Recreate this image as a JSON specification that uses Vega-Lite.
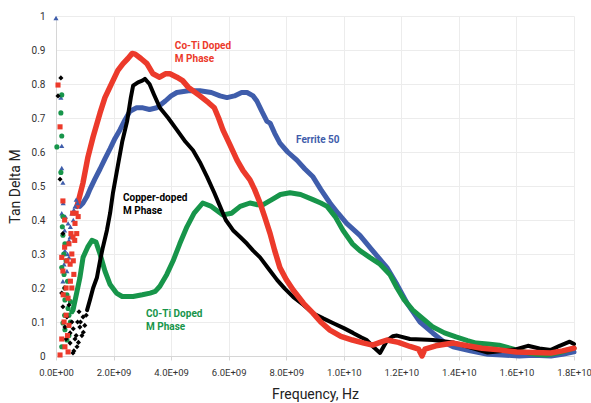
{
  "$schema": "https://vega.github.io/schema/vega-lite/v6.json",
  "width": 518,
  "height": 340,
  "autosize": {"type": "none"},
  "padding": {"left": 56, "top": 16, "right": 17, "bottom": 47},
  "background": "white",
  "config": {"view": {"stroke": null}, "font": "Roboto"},
  "datasets": {
    "curves": [
      {"s":"Ferrite 50","f":0.83e9,"v":0.44},{"s":"Ferrite 50","f":0.94e9,"v":0.45},{"s":"Ferrite 50","f":1.08e9,"v":0.47},{"s":"Ferrite 50","f":1.18e9,"v":0.49},{"s":"Ferrite 50","f":1.35e9,"v":0.52},{"s":"Ferrite 50","f":1.53e9,"v":0.55},{"s":"Ferrite 50","f":1.7e9,"v":0.58},{"s":"Ferrite 50","f":1.88e9,"v":0.61},{"s":"Ferrite 50","f":2.05e9,"v":0.64},{"s":"Ferrite 50","f":2.22e9,"v":0.665},{"s":"Ferrite 50","f":2.4e9,"v":0.695},{"s":"Ferrite 50","f":2.57e9,"v":0.72},{"s":"Ferrite 50","f":2.8e9,"v":0.73},{"s":"Ferrite 50","f":3.02e9,"v":0.73},{"s":"Ferrite 50","f":3.25e9,"v":0.725},{"s":"Ferrite 50","f":3.5e9,"v":0.73},{"s":"Ferrite 50","f":3.8e9,"v":0.75},{"s":"Ferrite 50","f":4.0e9,"v":0.765},{"s":"Ferrite 50","f":4.2e9,"v":0.775},{"s":"Ferrite 50","f":4.6e9,"v":0.78},{"s":"Ferrite 50","f":5.0e9,"v":0.78},{"s":"Ferrite 50","f":5.4e9,"v":0.775},{"s":"Ferrite 50","f":5.7e9,"v":0.765},{"s":"Ferrite 50","f":5.94e9,"v":0.76},{"s":"Ferrite 50","f":6.2e9,"v":0.765},{"s":"Ferrite 50","f":6.45e9,"v":0.775},{"s":"Ferrite 50","f":6.64e9,"v":0.775},{"s":"Ferrite 50","f":6.85e9,"v":0.765},{"s":"Ferrite 50","f":6.98e9,"v":0.75},{"s":"Ferrite 50","f":7.15e9,"v":0.72},{"s":"Ferrite 50","f":7.33e9,"v":0.69},{"s":"Ferrite 50","f":7.44e9,"v":0.685},{"s":"Ferrite 50","f":7.6e9,"v":0.655},{"s":"Ferrite 50","f":7.78e9,"v":0.626},{"s":"Ferrite 50","f":8.05e9,"v":0.6},{"s":"Ferrite 50","f":8.37e9,"v":0.576},{"s":"Ferrite 50","f":8.65e9,"v":0.55},{"s":"Ferrite 50","f":8.93e9,"v":0.527},{"s":"Ferrite 50","f":9.2e9,"v":0.49},{"s":"Ferrite 50","f":9.52e9,"v":0.45},{"s":"Ferrite 50","f":9.8e9,"v":0.42},{"s":"Ferrite 50","f":10.1e9,"v":0.39},{"s":"Ferrite 50","f":10.56e9,"v":0.355},{"s":"Ferrite 50","f":11.0e9,"v":0.31},{"s":"Ferrite 50","f":11.5e9,"v":0.26},{"s":"Ferrite 50","f":11.85e9,"v":0.21},{"s":"Ferrite 50","f":12.2e9,"v":0.155},{"s":"Ferrite 50","f":12.65e9,"v":0.1},{"s":"Ferrite 50","f":13.1e9,"v":0.067},{"s":"Ferrite 50","f":13.5e9,"v":0.04},{"s":"Ferrite 50","f":13.8e9,"v":0.027},{"s":"Ferrite 50","f":14.4e9,"v":0.015},{"s":"Ferrite 50","f":15.0e9,"v":0.005},{"s":"Ferrite 50","f":15.5e9,"v":0.003},{"s":"Ferrite 50","f":16.1e9,"v":0.0},{"s":"Ferrite 50","f":16.6e9,"v":0.002},{"s":"Ferrite 50","f":17.2e9,"v":0.0},{"s":"Ferrite 50","f":17.6e9,"v":0.005},{"s":"Ferrite 50","f":18.0e9,"v":0.012},

      {"s":"C0-Ti","f":0.59e9,"v":0.135},{"s":"C0-Ti","f":0.73e9,"v":0.19},{"s":"C0-Ti","f":0.83e9,"v":0.23},{"s":"C0-Ti","f":0.94e9,"v":0.29},{"s":"C0-Ti","f":1.1e9,"v":0.32},{"s":"C0-Ti","f":1.25e9,"v":0.34},{"s":"C0-Ti","f":1.39e9,"v":0.335},{"s":"C0-Ti","f":1.53e9,"v":0.3},{"s":"C0-Ti","f":1.7e9,"v":0.25},{"s":"C0-Ti","f":1.88e9,"v":0.21},{"s":"C0-Ti","f":2.1e9,"v":0.185},{"s":"C0-Ti","f":2.3e9,"v":0.175},{"s":"C0-Ti","f":2.68e9,"v":0.175},{"s":"C0-Ti","f":3.0e9,"v":0.18},{"s":"C0-Ti","f":3.27e9,"v":0.185},{"s":"C0-Ti","f":3.45e9,"v":0.19},{"s":"C0-Ti","f":3.61e9,"v":0.205},{"s":"C0-Ti","f":3.85e9,"v":0.24},{"s":"C0-Ti","f":4.07e9,"v":0.28},{"s":"C0-Ti","f":4.3e9,"v":0.33},{"s":"C0-Ti","f":4.55e9,"v":0.38},{"s":"C0-Ti","f":4.8e9,"v":0.42},{"s":"C0-Ti","f":5.1e9,"v":0.45},{"s":"C0-Ti","f":5.4e9,"v":0.44},{"s":"C0-Ti","f":5.8e9,"v":0.415},{"s":"C0-Ti","f":6.1e9,"v":0.42},{"s":"C0-Ti","f":6.4e9,"v":0.44},{"s":"C0-Ti","f":6.74e9,"v":0.45},{"s":"C0-Ti","f":7.0e9,"v":0.445},{"s":"C0-Ti","f":7.2e9,"v":0.445},{"s":"C0-Ti","f":7.5e9,"v":0.46},{"s":"C0-Ti","f":7.8e9,"v":0.475},{"s":"C0-Ti","f":8.13e9,"v":0.48},{"s":"C0-Ti","f":8.5e9,"v":0.475},{"s":"C0-Ti","f":8.93e9,"v":0.46},{"s":"C0-Ti","f":9.2e9,"v":0.45},{"s":"C0-Ti","f":9.42e9,"v":0.44},{"s":"C0-Ti","f":9.7e9,"v":0.41},{"s":"C0-Ti","f":9.97e9,"v":0.37},{"s":"C0-Ti","f":10.3e9,"v":0.33},{"s":"C0-Ti","f":10.56e9,"v":0.31},{"s":"C0-Ti","f":10.9e9,"v":0.29},{"s":"C0-Ti","f":11.26e9,"v":0.27},{"s":"C0-Ti","f":11.6e9,"v":0.24},{"s":"C0-Ti","f":11.85e9,"v":0.2},{"s":"C0-Ti","f":12.1e9,"v":0.165},{"s":"C0-Ti","f":12.4e9,"v":0.135},{"s":"C0-Ti","f":12.75e9,"v":0.11},{"s":"C0-Ti","f":13.1e9,"v":0.085},{"s":"C0-Ti","f":13.5e9,"v":0.068},{"s":"C0-Ti","f":13.9e9,"v":0.056},{"s":"C0-Ti","f":14.3e9,"v":0.045},{"s":"C0-Ti","f":14.6e9,"v":0.038},{"s":"C0-Ti","f":15.0e9,"v":0.035},{"s":"C0-Ti","f":15.4e9,"v":0.032},{"s":"C0-Ti","f":15.9e9,"v":0.02},{"s":"C0-Ti","f":16.4e9,"v":0.009},{"s":"C0-Ti","f":16.7e9,"v":0.005},{"s":"C0-Ti","f":17.05e9,"v":0.003},{"s":"C0-Ti","f":17.5e9,"v":0.01},{"s":"C0-Ti","f":18.0e9,"v":0.023},

      {"s":"Copper","f":1.08e9,"v":0.135},{"s":"Copper","f":1.18e9,"v":0.165},{"s":"Copper","f":1.29e9,"v":0.2},{"s":"Copper","f":1.42e9,"v":0.23},{"s":"Copper","f":1.53e9,"v":0.28},{"s":"Copper","f":1.63e9,"v":0.32},{"s":"Copper","f":1.77e9,"v":0.37},{"s":"Copper","f":1.88e9,"v":0.42},{"s":"Copper","f":1.98e9,"v":0.48},{"s":"Copper","f":2.15e9,"v":0.56},{"s":"Copper","f":2.3e9,"v":0.63},{"s":"Copper","f":2.47e9,"v":0.69},{"s":"Copper","f":2.6e9,"v":0.76},{"s":"Copper","f":2.68e9,"v":0.795},{"s":"Copper","f":2.85e9,"v":0.805},{"s":"Copper","f":3.0e9,"v":0.81},{"s":"Copper","f":3.09e9,"v":0.815},{"s":"Copper","f":3.25e9,"v":0.8},{"s":"Copper","f":3.4e9,"v":0.77},{"s":"Copper","f":3.61e9,"v":0.73},{"s":"Copper","f":3.9e9,"v":0.7},{"s":"Copper","f":4.2e9,"v":0.665},{"s":"Copper","f":4.5e9,"v":0.63},{"s":"Copper","f":4.76e9,"v":0.605},{"s":"Copper","f":5.0e9,"v":0.57},{"s":"Copper","f":5.25e9,"v":0.527},{"s":"Copper","f":5.5e9,"v":0.48},{"s":"Copper","f":5.7e9,"v":0.44},{"s":"Copper","f":5.9e9,"v":0.4},{"s":"Copper","f":6.15e9,"v":0.37},{"s":"Copper","f":6.4e9,"v":0.35},{"s":"Copper","f":6.64e9,"v":0.33},{"s":"Copper","f":6.85e9,"v":0.31},{"s":"Copper","f":7.09e9,"v":0.29},{"s":"Copper","f":7.4e9,"v":0.255},{"s":"Copper","f":7.68e9,"v":0.224},{"s":"Copper","f":7.95e9,"v":0.198},{"s":"Copper","f":8.24e9,"v":0.174},{"s":"Copper","f":8.6e9,"v":0.15},{"s":"Copper","f":8.93e9,"v":0.126},{"s":"Copper","f":9.3e9,"v":0.11},{"s":"Copper","f":9.62e9,"v":0.097},{"s":"Copper","f":10.0e9,"v":0.082},{"s":"Copper","f":10.32e9,"v":0.068},{"s":"Copper","f":10.6e9,"v":0.055},{"s":"Copper","f":10.8e9,"v":0.047},{"s":"Copper","f":11.05e9,"v":0.025},{"s":"Copper","f":11.26e9,"v":0.009},{"s":"Copper","f":11.4e9,"v":0.03},{"s":"Copper","f":11.5e9,"v":0.045},{"s":"Copper","f":11.7e9,"v":0.058},{"s":"Copper","f":11.85e9,"v":0.06},{"s":"Copper","f":12.3e9,"v":0.05},{"s":"Copper","f":13.1e9,"v":0.047},{"s":"Copper","f":13.8e9,"v":0.04},{"s":"Copper","f":14.4e9,"v":0.025},{"s":"Copper","f":15.0e9,"v":0.01},{"s":"Copper","f":15.5e9,"v":0.015},{"s":"Copper","f":16.0e9,"v":0.02},{"s":"Copper","f":16.4e9,"v":0.03},{"s":"Copper","f":16.8e9,"v":0.022},{"s":"Copper","f":17.2e9,"v":0.018},{"s":"Copper","f":17.5e9,"v":0.03},{"s":"Copper","f":17.85e9,"v":0.042},{"s":"Copper","f":18.0e9,"v":0.035},

      {"s":"Co-Ti","f":0.73e9,"v":0.44},{"s":"Co-Ti","f":0.94e9,"v":0.51},{"s":"Co-Ti","f":1.11e9,"v":0.585},{"s":"Co-Ti","f":1.29e9,"v":0.645},{"s":"Co-Ti","f":1.53e9,"v":0.715},{"s":"Co-Ti","f":1.7e9,"v":0.76},{"s":"Co-Ti","f":1.98e9,"v":0.81},{"s":"Co-Ti","f":2.15e9,"v":0.84},{"s":"Co-Ti","f":2.33e9,"v":0.86},{"s":"Co-Ti","f":2.5e9,"v":0.875},{"s":"Co-Ti","f":2.65e9,"v":0.89},{"s":"Co-Ti","f":2.75e9,"v":0.888},{"s":"Co-Ti","f":2.95e9,"v":0.875},{"s":"Co-Ti","f":3.16e9,"v":0.86},{"s":"Co-Ti","f":3.37e9,"v":0.83},{"s":"Co-Ti","f":3.6e9,"v":0.82},{"s":"Co-Ti","f":3.8e9,"v":0.83},{"s":"Co-Ti","f":3.96e9,"v":0.83},{"s":"Co-Ti","f":4.2e9,"v":0.82},{"s":"Co-Ti","f":4.4e9,"v":0.81},{"s":"Co-Ti","f":4.6e9,"v":0.79},{"s":"Co-Ti","f":4.76e9,"v":0.78},{"s":"Co-Ti","f":5.0e9,"v":0.765},{"s":"Co-Ti","f":5.3e9,"v":0.745},{"s":"Co-Ti","f":5.5e9,"v":0.73},{"s":"Co-Ti","f":5.65e9,"v":0.7},{"s":"Co-Ti","f":5.8e9,"v":0.665},{"s":"Co-Ti","f":6.05e9,"v":0.62},{"s":"Co-Ti","f":6.29e9,"v":0.576},{"s":"Co-Ti","f":6.5e9,"v":0.545},{"s":"Co-Ti","f":6.74e9,"v":0.518},{"s":"Co-Ti","f":6.9e9,"v":0.49},{"s":"Co-Ti","f":7.09e9,"v":0.45},{"s":"Co-Ti","f":7.25e9,"v":0.41},{"s":"Co-Ti","f":7.44e9,"v":0.36},{"s":"Co-Ti","f":7.6e9,"v":0.31},{"s":"Co-Ti","f":7.78e9,"v":0.26},{"s":"Co-Ti","f":8.0e9,"v":0.225},{"s":"Co-Ti","f":8.24e9,"v":0.194},{"s":"Co-Ti","f":8.6e9,"v":0.155},{"s":"Co-Ti","f":8.93e9,"v":0.126},{"s":"Co-Ti","f":9.2e9,"v":0.1},{"s":"Co-Ti","f":9.52e9,"v":0.076},{"s":"Co-Ti","f":9.9e9,"v":0.058},{"s":"Co-Ti","f":10.3e9,"v":0.047},{"s":"Co-Ti","f":10.7e9,"v":0.038},{"s":"Co-Ti","f":11.0e9,"v":0.032},{"s":"Co-Ti","f":11.26e9,"v":0.04},{"s":"Co-Ti","f":11.5e9,"v":0.047},{"s":"Co-Ti","f":11.9e9,"v":0.04},{"s":"Co-Ti","f":12.3e9,"v":0.028},{"s":"Co-Ti","f":12.6e9,"v":0.02},{"s":"Co-Ti","f":12.72e9,"v":0.0},{"s":"Co-Ti","f":12.82e9,"v":0.02},{"s":"Co-Ti","f":13.2e9,"v":0.03},{"s":"Co-Ti","f":13.8e9,"v":0.038},{"s":"Co-Ti","f":14.3e9,"v":0.03},{"s":"Co-Ti","f":14.8e9,"v":0.023},{"s":"Co-Ti","f":15.4e9,"v":0.018},{"s":"Co-Ti","f":16.0e9,"v":0.012},{"s":"Co-Ti","f":16.6e9,"v":0.01},{"s":"Co-Ti","f":17.2e9,"v":0.009},{"s":"Co-Ti","f":17.6e9,"v":0.015},{"s":"Co-Ti","f":18.0e9,"v":0.023}
    ],
    "scatter": [
      {"s":"Ferrite 50","f":0.0,"v":0.994},{"s":"Ferrite 50","f":0.17e9,"v":0.76},{"s":"Ferrite 50","f":0.2e9,"v":0.618},{"s":"Ferrite 50","f":0.2e9,"v":0.553},{"s":"Ferrite 50","f":0.24e9,"v":0.51},{"s":"Ferrite 50","f":0.2e9,"v":0.42},{"s":"Ferrite 50","f":0.42e9,"v":0.39},{"s":"Ferrite 50","f":0.49e9,"v":0.35},{"s":"Ferrite 50","f":0.31e9,"v":0.31},{"s":"Ferrite 50","f":0.38e9,"v":0.25},{"s":"Ferrite 50","f":0.24e9,"v":0.22},{"s":"Ferrite 50","f":0.66e9,"v":0.44},{"s":"Ferrite 50","f":0.55e9,"v":0.42},{"s":"Ferrite 50","f":0.3e9,"v":0.37},{"s":"Ferrite 50","f":0.45e9,"v":0.29},{"s":"Ferrite 50","f":0.6e9,"v":0.4},{"s":"Ferrite 50","f":0.75e9,"v":0.45},
      {"s":"Ferrite 50","f":0.35e9,"v":0.33},{"s":"Ferrite 50","f":0.4e9,"v":0.3},{"s":"Ferrite 50","f":0.28e9,"v":0.27},{"s":"Ferrite 50","f":0.5e9,"v":0.38},{"s":"Ferrite 50","f":0.62e9,"v":0.43},{"s":"Ferrite 50","f":0.25e9,"v":0.45},{"s":"Ferrite 50","f":0.33e9,"v":0.41},{"s":"Ferrite 50","f":0.7e9,"v":0.46},{"s":"Ferrite 50","f":0.45e9,"v":0.34},
      {"s":"C0-Ti","f":0.2e9,"v":0.768},{"s":"C0-Ti","f":0.17e9,"v":0.715},{"s":"C0-Ti","f":0.2e9,"v":0.647},{"s":"C0-Ti","f":0.03e9,"v":0.615},{"s":"C0-Ti","f":0.17e9,"v":0.54},{"s":"C0-Ti","f":0.24e9,"v":0.41},{"s":"C0-Ti","f":0.24e9,"v":0.355},{"s":"C0-Ti","f":0.31e9,"v":0.33},{"s":"C0-Ti","f":0.2e9,"v":0.26},{"s":"C0-Ti","f":0.31e9,"v":0.2},{"s":"C0-Ti","f":0.31e9,"v":0.165},{"s":"C0-Ti","f":0.24e9,"v":0.097},{"s":"C0-Ti","f":0.31e9,"v":0.077},{"s":"C0-Ti","f":0.38e9,"v":0.047},{"s":"C0-Ti","f":0.2e9,"v":0.027},{"s":"C0-Ti","f":0.45e9,"v":0.12},{"s":"C0-Ti","f":0.4e9,"v":0.22},{"s":"C0-Ti","f":0.5e9,"v":0.1},{"s":"C0-Ti","f":0.35e9,"v":0.28},{"s":"C0-Ti","f":0.5e9,"v":0.16},
      {"s":"C0-Ti","f":0.28e9,"v":0.24},{"s":"C0-Ti","f":0.38e9,"v":0.18},{"s":"C0-Ti","f":0.42e9,"v":0.14},{"s":"C0-Ti","f":0.3e9,"v":0.12},{"s":"C0-Ti","f":0.27e9,"v":0.3},{"s":"C0-Ti","f":0.22e9,"v":0.38},{"s":"C0-Ti","f":0.55e9,"v":0.13},{"s":"C0-Ti","f":0.45e9,"v":0.06},
      {"s":"Copper","f":0.17e9,"v":0.818},{"s":"Copper","f":0.07e9,"v":0.765},{"s":"Copper","f":0.14e9,"v":0.52},{"s":"Copper","f":0.24e9,"v":0.36},{"s":"Copper","f":0.2e9,"v":0.185},{"s":"Copper","f":0.24e9,"v":0.145},{"s":"Copper","f":0.38e9,"v":0.115},{"s":"Copper","f":0.31e9,"v":0.085},{"s":"Copper","f":0.49e9,"v":0.068},{"s":"Copper","f":0.59e9,"v":0.009},{"s":"Copper","f":0.49e9,"v":0.038},{"s":"Copper","f":0.73e9,"v":0.027},{"s":"Copper","f":0.83e9,"v":0.085},{"s":"Copper","f":0.94e9,"v":0.115},{"s":"Copper","f":0.66e9,"v":0.05},{"s":"Copper","f":0.8e9,"v":0.13},{"s":"Copper","f":0.9e9,"v":0.06},{"s":"Copper","f":0.55e9,"v":0.1},{"s":"Copper","f":0.75e9,"v":0.1},{"s":"Copper","f":1.0e9,"v":0.09},{"s":"Copper","f":0.62e9,"v":0.015},
      {"s":"Copper","f":0.3e9,"v":0.2},{"s":"Copper","f":0.35e9,"v":0.05},{"s":"Copper","f":0.45e9,"v":0.15},{"s":"Copper","f":0.7e9,"v":0.06},{"s":"Copper","f":0.85e9,"v":0.1},{"s":"Copper","f":0.95e9,"v":0.07},{"s":"Copper","f":1.05e9,"v":0.12},{"s":"Copper","f":0.6e9,"v":0.08},{"s":"Copper","f":0.78e9,"v":0.04},
      {"s":"Co-Ti","f":0.07e9,"v":0.797},{"s":"Co-Ti","f":0.14e9,"v":0.674},{"s":"Co-Ti","f":0.24e9,"v":0.456},{"s":"Co-Ti","f":0.14e9,"v":0.003},{"s":"Co-Ti","f":0.31e9,"v":0.027},{"s":"Co-Ti","f":0.42e9,"v":0.012},{"s":"Co-Ti","f":0.42e9,"v":0.17},{"s":"Co-Ti","f":0.24e9,"v":0.25},{"s":"Co-Ti","f":0.49e9,"v":0.27},{"s":"Co-Ti","f":0.55e9,"v":0.3},{"s":"Co-Ti","f":0.59e9,"v":0.35},{"s":"Co-Ti","f":0.66e9,"v":0.39},{"s":"Co-Ti","f":0.2e9,"v":0.29},{"s":"Co-Ti","f":0.35e9,"v":0.2},{"s":"Co-Ti","f":0.5e9,"v":0.22},{"s":"Co-Ti","f":0.45e9,"v":0.33},{"s":"Co-Ti","f":0.62e9,"v":0.24},{"s":"Co-Ti","f":0.28e9,"v":0.1},{"s":"Co-Ti","f":0.52e9,"v":0.36},{"s":"Co-Ti","f":0.7e9,"v":0.42},{"s":"Co-Ti","f":0.4e9,"v":0.06},
      {"s":"Co-Ti","f":0.3e9,"v":0.32},{"s":"Co-Ti","f":0.38e9,"v":0.28},{"s":"Co-Ti","f":0.55e9,"v":0.2},{"s":"Co-Ti","f":0.6e9,"v":0.28},{"s":"Co-Ti","f":0.65e9,"v":0.34},{"s":"Co-Ti","f":0.72e9,"v":0.36},{"s":"Co-Ti","f":0.77e9,"v":0.41},{"s":"Co-Ti","f":0.25e9,"v":0.18},{"s":"Co-Ti","f":0.35e9,"v":0.12},{"s":"Co-Ti","f":0.45e9,"v":0.09},{"s":"Co-Ti","f":0.2e9,"v":0.05},{"s":"Co-Ti","f":0.3e9,"v":0.4},{"s":"Co-Ti","f":0.58e9,"v":0.42}
    ],
    "labels": [
      {"s":"Co-Ti","f":4.13e9,"v":0.912,"t":"Co-Ti Doped\nM Phase"},
      {"s":"Ferrite 50","f":8.34e9,"v":0.635,"t":"Ferrite 50"},
      {"s":"Copper","f":2.33e9,"v":0.466,"t":"Copper-doped\nM Phase"},
      {"s":"C0-Ti","f":3.13e9,"v":0.125,"t":"C0-Ti Doped\nM Phase"}
    ]
  },
  "encoding": {
    "x": {
      "field": "f", "type": "quantitative",
      "scale": {"domain": [0, 18000000000], "nice": false},
      "axis": {
        "values": [0, 2000000000, 4000000000, 6000000000, 8000000000, 10000000000, 12000000000, 14000000000, 16000000000, 18000000000],
        "labelExpr": "datum.value == 0 ? '0.0E+00' : (datum.value < 1e10 ? format(datum.value / 1e9, '.1f') + 'E+09' : format(datum.value / 1e10, '.1f') + 'E+10')",
        "grid": true, "gridColor": "#ececec", "gridWidth": 1,
        "domainColor": "#d6d6d6", "tickColor": "#d6d6d6", "tickSize": 4,
        "labelFontSize": 9.5, "labelColor": "#333333", "labelPadding": 7, "labelFlush": false,
        "title": "Frequency, Hz", "titleFontSize": 14, "titleFontWeight": "normal", "titleColor": "#222222",
        "titleY": 38, "titleBaseline": "middle"
      }
    },
    "y": {
      "field": "v", "type": "quantitative",
      "scale": {"domain": [0, 1], "nice": false},
      "axis": {
        "values": [0, 0.1, 0.2, 0.3, 0.4, 0.5, 0.6, 0.7, 0.8, 0.9, 1],
        "labelExpr": "toString(round(datum.value * 10) / 10)",
        "grid": true, "gridColor": "#ececec", "gridWidth": 1,
        "domainColor": "#d6d6d6", "ticks": false,
        "labelFontSize": 10, "labelColor": "#333333", "labelPadding": 11, "labelFlush": false,
        "title": "Tan Delta M", "titleFontSize": 14, "titleFontWeight": "normal", "titleColor": "#222222",
        "titleX": -41, "titleY": 170, "titleAlign": "center", "titleBaseline": "middle", "titleAngle": -90
      }
    }
  },
  "layer": [
    {"data": {"name": "curves"}, "transform": [{"filter": "datum.s === 'Ferrite 50'"}],
     "mark": {"type": "line", "color": "#3F5DAB", "strokeWidth": 5, "strokeJoin": "round", "strokeCap": "round"}},
    {"data": {"name": "curves"}, "transform": [{"filter": "datum.s === 'C0-Ti'"}],
     "mark": {"type": "line", "color": "#17954A", "strokeWidth": 5, "strokeJoin": "round", "strokeCap": "round"}},
    {"data": {"name": "curves"}, "transform": [{"filter": "datum.s === 'Copper'"}],
     "mark": {"type": "line", "color": "#000000", "strokeWidth": 4, "strokeJoin": "round", "strokeCap": "round"}},
    {"data": {"name": "curves"}, "transform": [{"filter": "datum.s === 'Co-Ti'"}],
     "mark": {"type": "line", "color": "#EC3A2B", "strokeWidth": 5.5, "strokeJoin": "round", "strokeCap": "round"}},
    {"data": {"name": "scatter"},
     "mark": {"type": "point", "filled": true, "size": 26, "opacity": 1},
     "encoding": {
       "color": {"field": "s", "type": "nominal", "scale": {"domain": ["Ferrite 50", "C0-Ti", "Copper", "Co-Ti"], "range": ["#3F5DAB", "#17954A", "#000000", "#EC3A2B"]}, "legend": null},
       "shape": {"field": "s", "type": "nominal", "scale": {"domain": ["Ferrite 50", "C0-Ti", "Copper", "Co-Ti"], "range": ["triangle-up", "circle", "diamond", "square"]}, "legend": null}
     }},
    {"data": {"name": "labels"},
     "mark": {"type": "text", "align": "left", "baseline": "middle", "fontWeight": "bold", "fontSize": 10, "lineBreak": "\n", "lineHeight": 13.5},
     "encoding": {
       "text": {"field": "t"},
       "color": {"field": "s", "type": "nominal", "legend": null}
     }}
  ]
}
